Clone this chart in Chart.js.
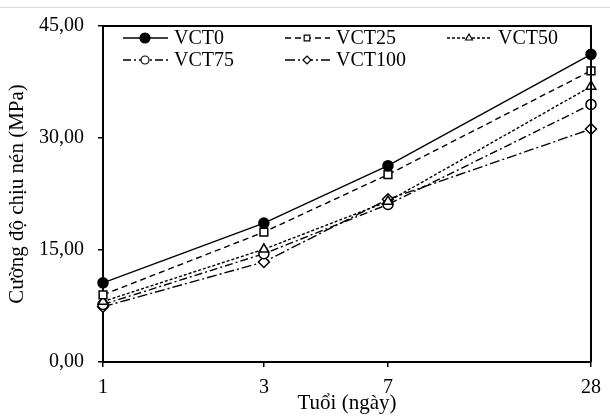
<!DOCTYPE html>
<html>
<head>
<meta charset="utf-8">
<script src="https://cdn.jsdelivr.net/npm/chart.js@4.4.1/dist/chart.umd.min.js"></script>
<style>
html, body { margin: 0; padding: 0; background: #fff; }
#wrap { width: 610px; height: 416px; position: relative; }
</style>
</head>
<body>
<div id="wrap"><canvas id="myChart"></canvas></div>
<script>
// tuoi (ngay) - truc hoanh
var ages = [1, 3, 7, 28];
var yTicks = [0, 15, 30, 45];
var seriesNames = ['VCT0', 'VCT25', 'VCT50', 'VCT75', 'VCT100'];

// cuong do chiu nen (MPa)
var vct0 = [10.6, 18.6, 26.3, 41.2];
var vct25 = [9.0, 17.4, 25.1, 39.0];
var vct50 = [8.1, 15.1, 21.5, 36.9];
var vct75 = [7.7, 14.5, 21.1, 34.5];
var vct100 = [7.4, 13.4, 21.8, 31.2];

var allValues = [vct0, vct25, vct50, vct75, vct100];
var markers = ['circle', 'rect', 'triangle', 'circle', 'rectRot'];
var dashes = [[], [6, 4], [3, 2], [8, 3, 2, 3], [10, 3, 2, 3]];
var serif = "'Liberation Serif', 'Times New Roman', serif";

function comma(v) {
    return v.toFixed(2).replace('.', ',');
}

var datasets = seriesNames.map(function (name, i) {
    return {
        label: name,
        data: ages.map(function (a, j) { return { x: a, y: allValues[i][j] }; }),
        borderColor: '#000',
        borderWidth: 1.4,
        borderDash: dashes[i],
        pointStyle: markers[i],
        pointRadius: markers[i] == 'circle' ? 5 : 5.5,
        pointBorderWidth: 1.5,
        pointBorderColor: '#000',
        pointBackgroundColor: i == 0 ? '#000' : '#fff',
        tension: 0,
        clip: false
    };
});

// chu giai ve ben trong khung
var legendInside = {
    id: 'legendInside',
    afterDatasetsDraw: function (chart) {
        var ctx = chart.ctx;
        var cols = [123, 285, 447];
        var rows = [38, 60];
        ctx.save();
        seriesNames.forEach(function (name, i) {
            var x = cols[i % 3], y = rows[Math.floor(i / 3)];
            ctx.strokeStyle = '#000';
            ctx.lineWidth = 1.4;
            ctx.setLineDash(dashes[i]);
            ctx.beginPath();
            ctx.moveTo(x, y);
            ctx.lineTo(x + 45, y);
            ctx.stroke();
            ctx.setLineDash([]);
            ctx.fillStyle = i == 0 ? '#000' : '#fff';
            ctx.lineWidth = 1.2;
            Chart.helpers.drawPoint(ctx, { pointStyle: markers[i], radius: i == 0 ? 5 : 4, rotation: 0, borderWidth: 1.2 }, x + 22, y);
            ctx.fillStyle = '#000';
            ctx.font = '20px ' + serif;
            ctx.textBaseline = 'middle';
            ctx.textAlign = 'left';
            ctx.fillText(name, x + 51, y + 1);
        });
        ctx.restore();
    },
    afterDraw: function (chart) {
        var ctx = chart.ctx, a = chart.chartArea;
        ctx.save();
        ctx.strokeStyle = '#000';
        ctx.lineWidth = 2;
        ctx.beginPath();
        ctx.moveTo(a.left, a.top);
        ctx.lineTo(a.right, a.top);
        ctx.lineTo(a.right, a.bottom);
        ctx.stroke();
        ctx.strokeStyle = '#dddddd';
        ctx.lineWidth = 1;
        ctx.beginPath();
        ctx.moveTo(0, 7.5);
        ctx.lineTo(610, 7.5);
        ctx.stroke();
        ctx.restore();
    }
};

var ctx = document.getElementById('myChart').getContext('2d');
var myChart = new Chart(ctx, {
    type: 'line',
    data: { datasets: datasets },
    plugins: [legendInside],
    options: {
        responsive: true,
        maintainAspectRatio: false,
        animation: false,
        layout: { padding: { top: 22, right: 13, left: 0, bottom: 0 } },
        plugins: {
            legend: { display: false },
            tooltip: { enabled: false }
        },
        scales: {
            x: {
                type: 'logarithmic',
                min: 1,
                max: 28,
                afterBuildTicks: function (scale) {
                    scale.ticks = ages.map(function (v) { return { value: v }; });
                },
                afterFit: function (scale) { scale.height = 54; },
                grid: { drawOnChartArea: false, color: '#000', tickLength: 5, lineWidth: 1.5 },
                border: { color: '#000', width: 2 },
                ticks: {
                    color: '#000',
                    padding: 9,
                    maxRotation: 0,
                    autoSkip: false,
                    font: { family: serif, size: 20 },
                    callback: function (v) { return String(v); }
                },
                title: {
                    display: true,
                    text: 'Tuổi (ngày)',
                    color: '#000',
                    padding: { top: 0, bottom: 0 },
                    font: { family: serif, size: 21 }
                }
            },
            y: {
                min: 0,
                max: 45,
                afterBuildTicks: function (scale) {
                    scale.ticks = yTicks.map(function (v) { return { value: v }; });
                },
                afterFit: function (scale) { scale.width = 103; },
                grid: { drawOnChartArea: false, color: '#000', tickLength: 5, lineWidth: 1.5 },
                border: { color: '#000', width: 2 },
                ticks: {
                    color: '#000',
                    padding: 14,
                    font: { family: serif, size: 20 },
                    callback: function (v) { return comma(v); }
                },
                title: {
                    display: true,
                    text: 'Cường độ chịu nén (MPa)',
                    color: '#000',
                    padding: { top: 5, bottom: 0 },
                    font: { family: serif, size: 21 }
                }
            }
        }
    }
});
</script>
</body>
</html>
